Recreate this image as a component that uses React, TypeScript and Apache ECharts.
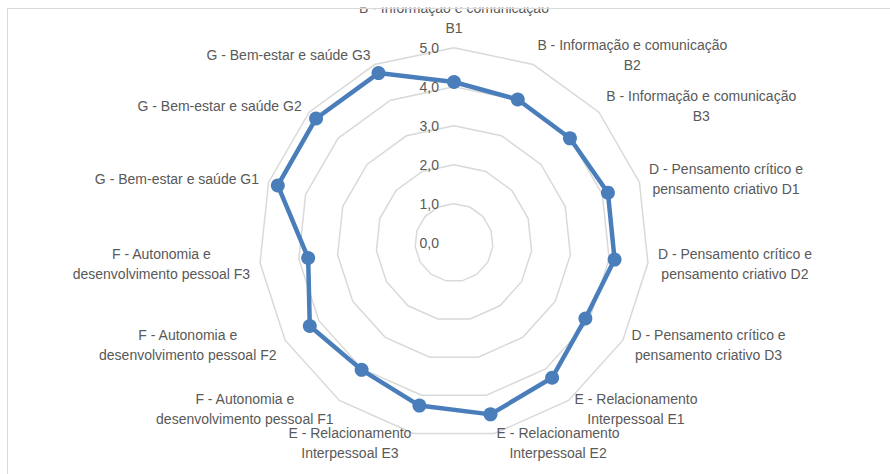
import React, { useEffect, useRef } from "react";
import * as echarts from "echarts";

const categories: string[] = [
  "B - Informação e comunicação\nB1",
  "B - Informação e comunicação\nB2",
  "B - Informação e comunicação\nB3",
  "D - Pensamento crítico e\npensamento criativo D1",
  "D - Pensamento crítico e\npensamento criativo D2",
  "D - Pensamento crítico e\npensamento criativo D3",
  "E - Relacionamento\nInterpessoal E1",
  "E - Relacionamento\nInterpessoal E2",
  "E - Relacionamento\nInterpessoal E3",
  "F - Autonomia e\ndesenvolvimento pessoal F1",
  "F - Autonomia e\ndesenvolvimento pessoal F2",
  "F - Autonomia e\ndesenvolvimento pessoal F3",
  "G - Bem-estar e saúde G1",
  "G - Bem-estar e saúde G2",
  "G - Bem-estar e saúde G3",
];

const values: number[] = [4.12, 4.02, 4.0, 4.15, 4.14, 3.89, 4.28, 4.5, 4.27, 4.03, 4.27, 3.76, 4.75, 4.76, 4.76];

const axisMin = 0;
const axisMax = 5;
const axisSplits = 5;

const fmt = (v: number) => v.toFixed(1).replace(".", ",");

export default function App() {
  const ref = useRef<HTMLDivElement>(null);
  useEffect(() => {
    if (!ref.current) return;
    const chart = echarts.init(ref.current, undefined, { renderer: "svg" });
    // Excel draws clockwise; ECharts radar runs counter-clockwise, so reorder.
    const order = [0, ...Array.from({ length: categories.length - 1 }, (_, i) => categories.length - 1 - i)];
    const richName = (s: string) =>
      s
        .split("\n")
        .map((l) => `{c|${l}}`)
        .join("\n");
    const indicator = order.map((i, k) => {
      const ind: any = { name: richName(categories[i]), min: axisMin, max: axisMax };
      if (k === 0) {
        ind.axisLabel = {
          show: true,
          formatter: (v: number) => fmt(v),
          color: "#595959",
          fontSize: 14,
          fontFamily: "Liberation Sans",
          margin: 15,
        };
      }
      return ind;
    });
    const data = order.map((i) => values[i]);
    chart.setOption({
      animation: false,
      backgroundColor: "#ffffff",
      radar: {
        center: [454, 242.7],
        radius: 195,
        startAngle: 90,
        shape: "polygon",
        splitNumber: axisSplits,
        indicator,
        nameGap: 10,
        axisName: {
          color: "#595959",
          fontSize: 14,
          fontFamily: "Liberation Sans",
          lineHeight: 20,
          rich: {
            c: {
              align: "center",
              color: "#595959",
              fontSize: 14,
              fontFamily: "Liberation Sans",
              lineHeight: 20,
            },
          },
        },
        axisLine: { show: false },
        axisTick: { show: false },
        axisLabel: { show: false },
        splitArea: { show: false },
        splitLine: { lineStyle: { color: "#d9d9d9", width: 1.5 } },
      },
      series: [
        {
          type: "radar",
          symbol: "circle",
          symbolSize: 14,
          lineStyle: { color: "#4a7ebb", width: 4.5 },
          itemStyle: { color: "#4a7ebb" },
          data: [{ value: data, name: "Média" }],
        },
      ],
      graphic: [
        { type: "rect", shape: { x: 0, y: 0, width: 890, height: 7.5 }, style: { fill: "#ffffff" }, z: 100 },
        {
          type: "rect",
          shape: { x: 7.5, y: 8.5, width: 900, height: 500 },
          style: { fill: "none", stroke: "#d9d9d9", lineWidth: 1 },
          z: 101,
        },
      ],
    });
    return () => chart.dispose();
  }, []);
  return <div ref={ref} style={{ position: "fixed", left: 0, top: 0, width: 890, height: 474 }} />;
}
